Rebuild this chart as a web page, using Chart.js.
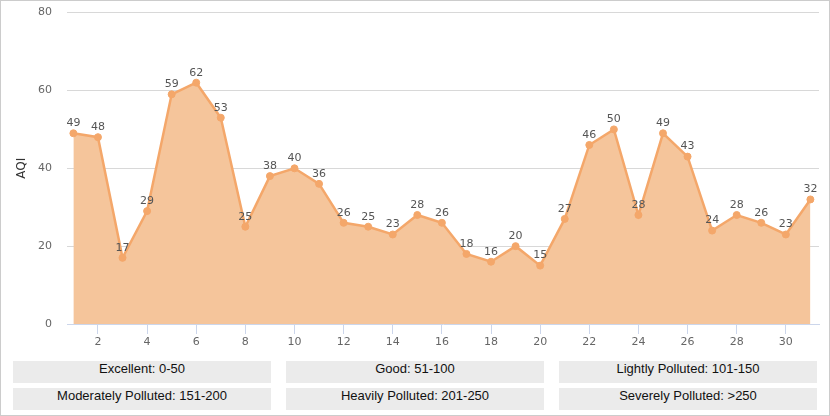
<!DOCTYPE html>
<html>
<head>
<meta charset="utf-8">
<script src="https://cdn.jsdelivr.net/npm/chart.js@4"></script>
<style>
  body { margin: 0; background: #fff; }
  #wrap { position: relative; width: 828px; height: 414px; border: 1px solid #cccccc; }
  #chart-box { position: absolute; left: 0; top: -10px; width: 828px; height: 361px; }
  .lvl {
    position: absolute; width: 258px; height: 22px; line-height: 22px;
    background: #ebebeb; text-align: center;
    font: 13px "Liberation Sans", Arial, sans-serif; color: #111;
  }
</style>
</head>
<body>
<div id="wrap">
  <div id="chart-box"><canvas id="aqi-canvas"></canvas></div>
  <div id="levels"></div>
</div>
<script>
// days of the month and daily AQI readings
const days = [1,2,3,4,5,6,7,8,9,10,11,12,13,14,15,16,17,18,19,20,21,22,23,24,25,26,27,28,29,30,31];
const aqi = [49,48,17,29,59,62,53,25,38,40,36,26,25,23,28,26,18,16,20,15,27,46,50,28,49,43,24,28,26,23,32];
const xTicks = [2,4,6,8,10,12,14,16,18,20,22,24,26,28,30];
const yTicks = [0,20,40,60,80];
const levelLabels = [
    'Excellent: 0-50', 'Good: 51-100', 'Lightly Polluted: 101-150',
    'Moderately Polluted: 151-200', 'Heavily Polluted: 201-250', 'Severely Polluted: >250'
];

// value labels above every point
const pointLabels = {
    id: 'pointLabels',
    afterDatasetsDraw(chart) {
        const ctx = chart.ctx;
        const meta = chart.getDatasetMeta(0);
        ctx.save();
        ctx.font = '11px "DejaVu Sans", Verdana, sans-serif';
        ctx.fillStyle = '#555555';
        ctx.textAlign = 'center';
        ctx.textBaseline = 'middle';
        meta.data.forEach((pt, i) => {
            ctx.fillText(String(aqi[i]), pt.x, pt.y - 10);
        });
        ctx.restore();
    }
};

const ctx = document.getElementById('aqi-canvas').getContext('2d');
const aqiChart = new Chart(ctx, {
    type: 'line',
    data: {
        datasets: [{
            label: 'AQI',
            data: days.map((d, i) => ({ x: d, y: aqi[i] })),
            borderColor: '#f4a76a',
            backgroundColor: '#f5c59b',
            pointBackgroundColor: '#f4a76a',
            pointBorderColor: '#f4a76a',
            pointRadius: 3.5,
            pointBorderWidth: 1,
            borderWidth: 2.5,
            fill: 'origin',
            tension: 0
        }]
    },
    options: {
        responsive: true,
        maintainAspectRatio: false,
        animation: false,
        layout: { padding: { top: 0, right: 10, left: 0, bottom: 0 } },
        plugins: {
            legend: { display: false },
            tooltip: { enabled: false }
        },
        scales: {
            x: {
                type: 'linear',
                min: 0.74,
                max: 31.35,
                afterBuildTicks: axis => { axis.ticks = xTicks.map(v => ({ value: v })); },
                afterFit: scale => { scale.height = 28; },
                grid: {
                    drawOnChartArea: false,
                    drawTicks: true,
                    tickLength: 10,
                    color: '#ccd6eb'
                },
                border: { color: '#ccd6eb', width: 1 },
                ticks: {
                    padding: 2,
                    color: '#666666',
                    font: { family: '"DejaVu Sans", Verdana, sans-serif', size: 11 },
                    maxRotation: 0
                }
            },
            y: {
                min: 0,
                max: 80,
                afterBuildTicks: axis => { axis.ticks = yTicks.map(v => ({ value: v })); },
                afterFit: scale => { scale.width = 66; },
                grid: {
                    drawTicks: false,
                    color: c => (c.tick && c.tick.value === 0) ? 'rgba(0,0,0,0)' : '#d8d8d8'
                },
                border: { display: false },
                ticks: {
                    padding: 15,
                    color: '#666666',
                    font: { family: '"DejaVu Sans", Verdana, sans-serif', size: 11 }
                },
                title: {
                    display: true,
                    text: 'AQI',
                    color: '#333333',
                    padding: { top: 14, bottom: 0 },
                    font: { family: '"DejaVu Sans", Verdana, sans-serif', size: 12 }
                }
            }
        }
    },
    plugins: [pointLabels]
});

// AQI level boxes under the chart
const levelsBox = document.getElementById('levels');
levelLabels.forEach((txt, i) => {
    const cell = document.createElement('div');
    cell.className = 'lvl';
    cell.style.left = (12 + (i % 3) * 273) + 'px';
    cell.style.top = (360 + Math.floor(i / 3) * 27) + 'px';
    cell.textContent = txt;
    levelsBox.appendChild(cell);
});
</script>
</body>
</html>
